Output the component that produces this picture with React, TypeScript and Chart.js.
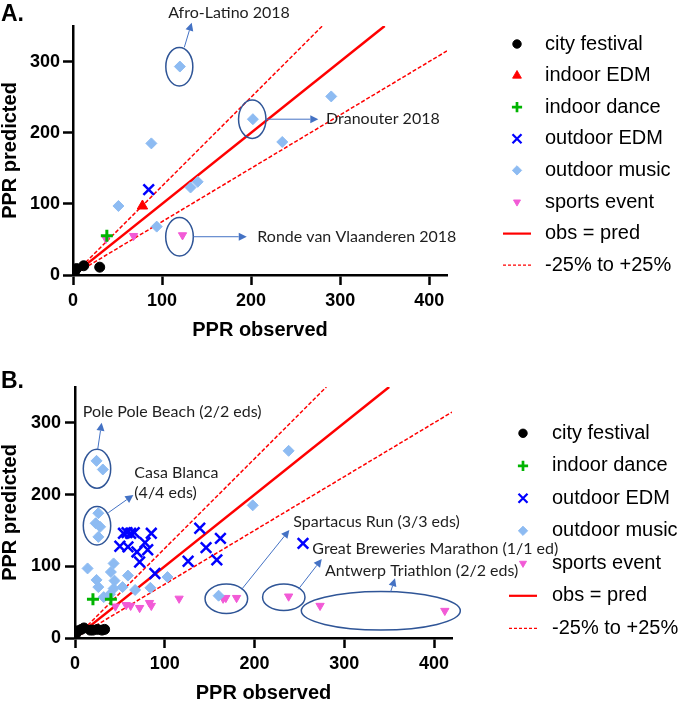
import React, { useEffect, useRef } from 'react';
import { Chart, registerables, PointElement } from 'chart.js';

Chart.register(...registerables);

type Pt = { x: number; y: number };

// ---------------- Panel A data ----------------
const aCityFestival: Pt[] = [
  { x: 2, y: 5 }, { x: 4, y: 9 }, { x: 12, y: 13 }, { x: 30, y: 11 },
];
const aIndoorEDM: Pt[] = [{ x: 78, y: 97 }];
const aIndoorDance: Pt[] = [{ x: 38, y: 55 }];
const aOutdoorEDM: Pt[] = [{ x: 85, y: 120 }];
const aOutdoorMusic: Pt[] = [
  { x: 120, y: 293 }, { x: 202, y: 219 }, { x: 290, y: 251 }, { x: 235, y: 187 },
  { x: 88, y: 185 }, { x: 132, y: 123 }, { x: 140, y: 131 }, { x: 51, y: 97 }, { x: 94, y: 68 },
];
const aSportsEvent: Pt[] = [{ x: 37, y: 51 }, { x: 68, y: 55 }, { x: 123, y: 56 }];

// ---------------- Panel B data ----------------
const bCityFestival: Pt[] = [
  { x: 1, y: 6 }, { x: 3, y: 10 }, { x: 7, y: 12 }, { x: 10, y: 14 }, { x: 17, y: 11 },
  { x: 20, y: 11 }, { x: 25, y: 12 }, { x: 30, y: 11 }, { x: 33, y: 12 },
];
const bIndoorDance: Pt[] = [{ x: 20, y: 54 }, { x: 40, y: 54 }];
const bOutdoorEDM: Pt[] = [
  { x: 54, y: 146 }, { x: 58, y: 147 }, { x: 62, y: 146 }, { x: 66, y: 147 }, { x: 85, y: 146 },
  { x: 50, y: 128 }, { x: 59, y: 127 }, { x: 78, y: 133 }, { x: 69, y: 120 }, { x: 81, y: 123 },
  { x: 72, y: 106 }, { x: 89, y: 90 }, { x: 126, y: 107 }, { x: 139, y: 153 }, { x: 146, y: 126 },
  { x: 162, y: 139 }, { x: 158, y: 109 }, { x: 254, y: 132 },
];
const bOutdoorMusic: Pt[] = [
  { x: 24, y: 247 }, { x: 31, y: 235 },
  { x: 26, y: 174 }, { x: 23, y: 160 }, { x: 28, y: 155 }, { x: 26, y: 141 },
  { x: 238, y: 261 }, { x: 198, y: 185 }, { x: 14, y: 97 }, { x: 43, y: 104 }, { x: 40, y: 92 },
  { x: 24, y: 81 }, { x: 44, y: 80 }, { x: 59, y: 87 }, { x: 26, y: 71 }, { x: 43, y: 69 },
  { x: 53, y: 71 }, { x: 67, y: 67 }, { x: 32, y: 57 }, { x: 39, y: 61 }, { x: 84, y: 70 },
  { x: 103, y: 85 }, { x: 160, y: 59 },
];
const bSportsEvent: Pt[] = [
  { x: 45, y: 44 }, { x: 57, y: 46 }, { x: 62, y: 45 }, { x: 72, y: 42 }, { x: 83, y: 49 },
  { x: 85, y: 45 }, { x: 116, y: 55 }, { x: 165, y: 55 }, { x: 168, y: 56 }, { x: 180, y: 56 },
  { x: 238, y: 58 }, { x: 273, y: 45 }, { x: 412, y: 38 },
];

// ---------------- reference lines ----------------
const obsPredLine: Pt[] = [{ x: 0, y: 0 }, { x: 350, y: 350 }];
const plus25Line: Pt[] = [{ x: 0, y: 0 }, { x: 280, y: 350 }];
const minus25Line: Pt[] = [{ x: 0, y: 0 }, { x: 420, y: 315 }];

// ---------------- axes ----------------
const xTickValues = [0, 100, 200, 300, 400];
const yTickValues = [0, 100, 200, 300];
const xMax = 420;
const yMax = 350;

// ---------------- call-outs (data units; radii in px) ----------------
type Callout = {
  lines: string[]; ex: number; ey: number; rx: number; ry: number;
  ax1: number; ay1: number; ax2: number; ay2: number;
  tx: number; ty: number; align: CanvasTextAlign;
};
const aCallouts: Callout[] = [
  { lines: ['Afro-Latino 2018'], ex: 119.4, ey: 292.8, rx: 13.5, ry: 19.3, ax1: 125, ay1: 320, ax2: 133.3, ay2: 354.7, tx: 175.2, ty: 367.9, align: 'center' },
  { lines: ['Dranouter 2018'], ex: 201.3, ey: 219, rx: 13.7, ry: 19.2, ax1: 216.7, ay1: 219, ax2: 275.5, ay2: 219, tx: 284.1, ty: 219, align: 'left' },
  { lines: ['Ronde van Vlaanderen 2018'], ex: 119.6, ey: 53.8, rx: 13.8, ry: 19.3, ax1: 135.1, ay1: 53.8, ax2: 195.1, ay2: 53.8, tx: 207, ty: 53.8, align: 'left' },
];
const bCallouts: Callout[] = [
  { lines: ['Pole Pole Beach (2/2 eds)'], ex: 24.5, ey: 236, rx: 13.7, ry: 19.5, ax1: 25.3, ay1: 263.1, ax2: 29.7, ay2: 300.2, tx: 8.6, ty: 314.7, align: 'left' },
  { lines: ['Casa Blanca', '(4/4 eds)'], ex: 24.5, ey: 156.5, rx: 13.7, ry: 19.2, ax1: 37.1, ay1: 174.7, ax2: 65, ay2: 199.4, tx: 66.1, ty: 229.7, align: 'left' },
  { lines: ['Spartacus Run (3/3 eds)'], ex: 168.6, ey: 54.8, rx: 21.3, ry: 14.7, ax1: 185.7, ay1: 67.9, ax2: 238.8, ay2: 150.6, tx: 243.2, ty: 161.3, align: 'left' },
  { lines: ['Great Breweries Marathon (1/1 ed)'], ex: 232.6, ey: 56.8, rx: 21.2, ry: 13.3, ax1: 248.8, ay1: 67.9, ax2: 274.9, ay2: 110.2, tx: 264.4, ty: 123.7, align: 'left' },
  { lines: ['Antwerp Triathlon (2/2 eds)'], ex: 340.7, ey: 37.9, rx: 79.5, ry: 19.2, ax1: 351.7, ay1: 64.6, ax2: 356.5, ay2: 83.3, tx: 278.5, ty: 93.4, align: 'left' },
];

// ---------------- styles ----------------
const FONT = '"Liberation Sans", Arial, sans-serif';
const NOTE_FONT = '16px Lato, "Open Sans", sans-serif';

const styles: Record<string, any> = {
  city: { label: 'city festival', pointStyle: 'circle', pointRadius: 5, pointBackgroundColor: '#000000', pointBorderColor: '#000000', pointBorderWidth: 1 },
  indoorEDM: { label: 'indoor EDM', pointStyle: 'triangle', pointRadius: 6, pointBackgroundColor: '#FF0000', pointBorderColor: '#FF0000', pointBorderWidth: 1 },
  indoorDance: { label: 'indoor dance', pointStyle: 'cross', pointRadius: 6, pointBackgroundColor: '#00B400', pointBorderColor: '#00B400', pointBorderWidth: 3 },
  outdoorEDM: { label: 'outdoor EDM', pointStyle: 'crossRot', pointRadius: 7.5, pointBackgroundColor: '#0000FF', pointBorderColor: '#0000FF', pointBorderWidth: 2.5 },
  outdoorMusic: { label: 'outdoor music', pointStyle: 'rectRot', pointRadius: 5.5, pointBackgroundColor: '#8DBBF2', pointBorderColor: '#8DBBF2', pointBorderWidth: 1 },
  sports: { label: 'sports event', pointStyle: 'triangle', pointRotation: 180, pointRadius: 4.8, pointBackgroundColor: '#F25AD6', pointBorderColor: '#F25AD6', pointBorderWidth: 1 },
};

const lineSets = () => [
  { label: 'obs = pred', data: obsPredLine, showLine: true, pointRadius: 0, borderColor: '#FF0000', borderWidth: 2.5, order: 1 },
  { label: '-25% to +25%', data: minus25Line, showLine: true, pointRadius: 0, borderColor: '#FF0000', borderWidth: 1.5, borderDash: [4, 2], order: 1 },
  { label: '', data: plus25Line, showLine: true, pointRadius: 0, borderColor: '#FF0000', borderWidth: 1.5, borderDash: [4, 2], order: 1 },
];

type PanelCfg = {
  letter: string; height: number; top: number;
  left: number; right: number; chartTop: number; chartBottom: number;
  xTitlePad: number; yTickPad: number;
  legendX: number; legendTextX: number; legendY0: number; legendDy: number;
  callouts: Callout[];
  datasets: any[];
};

function drawArrow(ctx: CanvasRenderingContext2D, x1: number, y1: number, x2: number, y2: number) {
  const ang = Math.atan2(y2 - y1, x2 - x1);
  const head = 8, half = 4;
  const bx = x2 - Math.cos(ang) * head, by = y2 - Math.sin(ang) * head;
  ctx.strokeStyle = '#4472C4';
  ctx.fillStyle = '#4472C4';
  ctx.lineWidth = 1;
  ctx.beginPath();
  ctx.moveTo(x1, y1);
  ctx.lineTo(bx, by);
  ctx.stroke();
  ctx.beginPath();
  ctx.moveTo(x2, y2);
  ctx.lineTo(bx - Math.sin(ang) * half, by + Math.cos(ang) * half);
  ctx.lineTo(bx + Math.sin(ang) * half, by - Math.cos(ang) * half);
  ctx.closePath();
  ctx.fill();
}

function makePlugin(cfg: PanelCfg) {
  return {
    id: 'panelExtras' + cfg.letter,
    afterDatasetsDraw(chart: any) {
      const ctx: CanvasRenderingContext2D = chart.ctx;
      const xs = chart.scales.x, ys = chart.scales.y;
      ctx.save();
      for (const c of cfg.callouts) {
        const cx = xs.getPixelForValue(c.ex), cy = ys.getPixelForValue(c.ey);
        ctx.beginPath();
        ctx.ellipse(cx, cy, c.rx, c.ry, 0, 0, Math.PI * 2);
        ctx.strokeStyle = '#2F5597';
        ctx.lineWidth = 1.5;
        ctx.stroke();
        drawArrow(ctx, xs.getPixelForValue(c.ax1), ys.getPixelForValue(c.ay1), xs.getPixelForValue(c.ax2), ys.getPixelForValue(c.ay2));
        ctx.font = NOTE_FONT;
        ctx.fillStyle = '#1e1e1e';
        ctx.textAlign = c.align;
        ctx.textBaseline = 'middle';
        const tx = xs.getPixelForValue(c.tx);
        const ty = ys.getPixelForValue(c.ty);
        c.lines.forEach((t, i) => ctx.fillText(t, tx, ty + i * 20));
      }
      ctx.restore();
    },
    afterDraw(chart: any) {
      const ctx: CanvasRenderingContext2D = chart.ctx;
      ctx.save();
      // panel letter
      ctx.font = `bold 23px ${FONT}`;
      ctx.fillStyle = '#000';
      ctx.textAlign = 'left';
      ctx.textBaseline = 'alphabetic';
      ctx.fillText(cfg.letter + '.', 1, cfg.letter === 'A' ? 21 : 38);
      // legend
      const area = { left: -1e4, right: 1e4, top: -1e4, bottom: 1e4 };
      let row = 0;
      chart.data.datasets.forEach((ds: any) => {
        if (!ds.label) return;
        const y = cfg.legendY0 + row * cfg.legendDy;
        row++;
        if (ds.showLine) {
          ctx.save();
          ctx.strokeStyle = ds.borderColor;
          ctx.lineWidth = ds.borderDash ? 1.2 : 2.2;
          ctx.setLineDash(ds.borderDash ? [3, 2] : []);
          ctx.beginPath();
          ctx.moveTo(cfg.legendX - 14, y);
          ctx.lineTo(cfg.legendX + 14, y);
          ctx.stroke();
          ctx.restore();
        } else {
          const p: any = new (PointElement as any)({
            x: cfg.legendX, y,
            options: {
              pointStyle: ds.pointStyle, radius: ds.pointRadius * 0.85, rotation: ds.pointRotation || 0,
              backgroundColor: ds.pointBackgroundColor, borderColor: ds.pointBorderColor,
              borderWidth: ds.pointBorderWidth * 0.9, hitRadius: 0, hoverRadius: 0,
            },
          });
          p.draw(ctx, area);
        }
        ctx.font = `20px ${FONT}`;
        ctx.fillStyle = '#000';
        ctx.textAlign = 'left';
        ctx.textBaseline = 'middle';
        ctx.fillText(ds.label, cfg.legendTextX, y);
      });
      ctx.restore();
    },
  };
}

function Panel({ cfg }: { cfg: PanelCfg }) {
  const ref = useRef<HTMLCanvasElement>(null);
  useEffect(() => {
    const tickFont = { family: FONT, size: 18, weight: 'bold' as const };
    const titleFont = { family: FONT, size: 20, weight: 'bold' as const, lineHeight: 1 };
    const chart = new Chart(ref.current as HTMLCanvasElement, {
      type: 'scatter',
      data: { datasets: cfg.datasets },
      options: {
        responsive: false,
        animation: false,
        devicePixelRatio: 1,
        events: [],
        layout: { padding: { left: 0, top: cfg.chartTop, right: 685 - cfg.right, bottom: 0 } },
        plugins: { legend: { display: false }, tooltip: { enabled: false } },
        scales: {
          x: {
            type: 'linear', position: 'bottom', min: 0, max: xMax,
            afterBuildTicks: (s: any) => { s.ticks = xTickValues.map((v) => ({ value: v })); },
            afterFit: (s: any) => { s.height = cfg.height - cfg.chartBottom; },
            grid: { display: true, drawOnChartArea: false, drawTicks: true, tickLength: 10, tickWidth: 2.5, tickColor: '#000' },
            border: { display: true, color: '#000', width: 2.5 },
            ticks: { color: '#000', font: tickFont, padding: 5, maxRotation: 0, autoSkip: false },
            title: { display: true, text: 'PPR observed', color: '#000', font: titleFont, padding: { top: 0, bottom: cfg.xTitlePad } },
          },
          y: {
            type: 'linear', position: 'left', min: 0, max: yMax,
            afterBuildTicks: (s: any) => { s.ticks = yTickValues.map((v) => ({ value: v })); },
            afterFit: (s: any) => { s.width = cfg.left; },
            grid: { display: true, drawOnChartArea: false, drawTicks: true, tickLength: 10, tickWidth: 2.5, tickColor: '#000' },
            border: { display: true, color: '#000', width: 2.5 },
            ticks: { color: '#000', font: tickFont, padding: cfg.yTickPad, autoSkip: false },
            title: { display: true, text: 'PPR predicted', color: '#000', font: titleFont, padding: { top: 0, bottom: 0 } },
          },
        },
      } as any,
      plugins: [makePlugin(cfg) as any],
    });
    return () => chart.destroy();
  }, []);
  return (
    <canvas
      ref={ref}
      width={685}
      height={cfg.height}
      style={{ position: 'absolute', left: 0, top: cfg.top, width: 685, height: cfg.height }}
    />
  );
}

const panelA: PanelCfg = {
  letter: 'A', height: 350, top: 0,
  left: 73, right: 447, chartTop: 26, chartBottom: 275,
  xTitlePad: 10, yTickPad: 3,
  legendX: 517, legendTextX: 545, legendY0: 44, legendDy: 31.6,
  callouts: aCallouts,
  datasets: [
    { ...styles.city, data: aCityFestival },
    { ...styles.indoorEDM, data: aIndoorEDM },
    { ...styles.indoorDance, data: aIndoorDance },
    { ...styles.outdoorEDM, data: aOutdoorEDM },
    { ...styles.outdoorMusic, data: aOutdoorMusic },
    { ...styles.sports, data: aSportsEvent },
    ...lineSets(),
  ],
};

const panelB: PanelCfg = {
  letter: 'B', height: 365, top: 350,
  left: 75, right: 452, chartTop: 37, chartBottom: 288,
  xTitlePad: 12, yTickPad: 4,
  legendX: 523, legendTextX: 552, legendY0: 83.3, legendDy: 32.5,
  callouts: bCallouts,
  datasets: [
    { ...styles.city, data: bCityFestival },
    { ...styles.indoorDance, data: bIndoorDance },
    { ...styles.outdoorEDM, data: bOutdoorEDM },
    { ...styles.outdoorMusic, data: bOutdoorMusic },
    { ...styles.sports, data: bSportsEvent },
    ...lineSets(),
  ],
};

export default function App() {
  return (
    <div style={{ position: 'fixed', left: 0, top: 0, width: 685, height: 703, overflow: 'hidden', background: '#ffffff' }}>
      <Panel cfg={panelA} />
      <Panel cfg={panelB} />
    </div>
  );
}
